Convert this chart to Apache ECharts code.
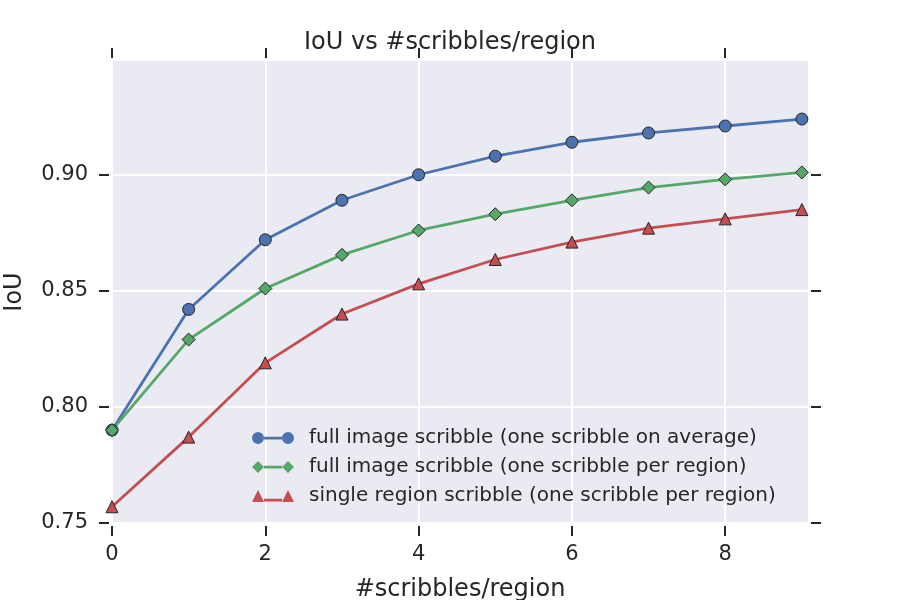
<!DOCTYPE html>
<html>
<head>
<meta charset="utf-8">
<script src="https://cdn.jsdelivr.net/npm/echarts@6/dist/echarts.min.js"></script>
<style>
  html, body { margin: 0; padding: 0; background: #fff; }
  #chart { width: 900px; height: 600px; }
</style>
</head>
<body>
<div id="chart"></div>
<script>
  const scribbleCounts = [0, 1, 2, 3, 4, 5, 6, 7, 8, 9];
  const fullImageAverage = [0.790, 0.842, 0.872, 0.889, 0.900, 0.908, 0.914, 0.918, 0.921, 0.924];
  const fullImagePerRegion = [0.790, 0.829, 0.851, 0.8655, 0.876, 0.883, 0.889, 0.8945, 0.898, 0.901];
  const singleRegion = [0.757, 0.787, 0.819, 0.840, 0.853, 0.8635, 0.871, 0.877, 0.881, 0.885];
  const xTicks = [0, 2, 4, 6, 8];
  const yTicks = [0.75, 0.80, 0.85, 0.90];
  const seriesNames = [
    'full image scribble (one scribble on average)',
    'full image scribble (one scribble per region)',
    'single region scribble (one scribble per region)'
  ];

  const font = 'DejaVu Sans';
  const ink = '#262626';
  const colors = ['#4C72B0', '#55A868', '#C44E52'];

  // legend handles: marker, line, marker (like matplotlib numpoints=2)
  const legendIcons = [
    'path://M0 6a6 6 0 1 0 12 0a6 6 0 1 0 -12 0zM12 4.8h18v2.6h-18zM30 6a6 6 0 1 0 12 0a6 6 0 1 0 -12 0z',
    'path://M0 6l6 -6l6 6l-6 6zM12 4.8h18v2.6h-18zM30 6l6 -6l6 6l-6 6z',
    'path://M0 12l6 -12l6 12zM12 8.8h18v2.6h-18zM30 12l6 -12l6 12z'
  ];

  function pairs(values) {
    return values.map((v, i) => [scribbleCounts[i], v]);
  }

  // secondary axes only carry the outside ticks (top and right)
  function tickAxis(base, ticks, position) {
    return Object.assign({
      position: position,
      offset: 3,
      axisLine: {show: false, onZero: false},
      axisTick: {show: true, length: 10, lineStyle: {color: ink, width: 2}, customValues: ticks},
      axisLabel: {show: false},
      splitLine: {show: false}
    }, base);
  }

  const chart = echarts.init(document.getElementById('chart'));

  const xBase = {type: 'value', min: 0, max: 9.08, interval: 2};
  const yBase = {type: 'value', min: 0.75, max: 0.949, interval: 0.05};

  const option = {
    animation: false,
    textStyle: {fontFamily: font, color: ink},
    title: {
      text: 'IoU vs #scribbles/region',
      left: 'center',
      top: 31,
      padding: 0,
      textStyle: {fontFamily: font, fontSize: 24, fontWeight: 'normal', color: ink}
    },
    grid: {
      left: 112,
      right: 92,
      top: 61,
      bottom: 77,
      show: true,
      backgroundColor: '#EAEAF2',
      borderWidth: 0,
      outerBoundsMode: 'none',
      containLabel: false
    },
    legend: {
      orient: 'vertical',
      left: 247,
      top: 423,
      itemWidth: 42,
      itemHeight: 12,
      itemGap: 9,
      itemStyle: {borderWidth: 0},
      textStyle: {fontFamily: font, fontSize: 20, color: ink, padding: [0, 0, 0, 10]},
      data: seriesNames.map((name, i) => ({name: name, icon: legendIcons[i]}))
    },
    xAxis: [
      Object.assign({}, xBase, {
        position: 'bottom',
        offset: 3,
        name: '#scribbles/region',
        nameLocation: 'middle',
        nameGap: 52,
        nameTextStyle: {fontFamily: font, fontSize: 24, color: ink},
        axisLine: {show: false, onZero: false},
        axisTick: {show: true, length: 10, lineStyle: {color: ink, width: 2}, customValues: xTicks},
        axisLabel: {fontFamily: font, fontSize: 21, color: ink, margin: 18, customValues: xTicks},
        splitLine: {show: true, lineStyle: {color: '#fff', width: 2}}
      }),
      tickAxis(xBase, xTicks, 'top')
    ],
    yAxis: [
      Object.assign({}, yBase, {
        position: 'left',
        offset: 3,
        name: 'IoU',
        nameLocation: 'middle',
        nameGap: 82,
        nameTextStyle: {fontFamily: font, fontSize: 24, color: ink},
        axisLine: {show: false, onZero: false},
        axisTick: {show: true, length: 10, lineStyle: {color: ink, width: 2}, customValues: yTicks},
        axisLabel: {
          fontFamily: font, fontSize: 21, color: ink, margin: 21,
          customValues: yTicks,
          formatter: v => v.toFixed(2)
        },
        splitLine: {show: true, lineStyle: {color: '#fff', width: 2}}
      }),
      tickAxis(yBase, yTicks, 'right')
    ],
    series: [
      {
        name: seriesNames[0],
        type: 'line',
        data: pairs(fullImageAverage),
        symbol: 'circle',
        symbolSize: 12,
        lineStyle: {color: colors[0], width: 2.8},
        itemStyle: {color: colors[0], borderColor: ink, borderWidth: 1}
      },
      {
        name: seriesNames[1],
        type: 'line',
        data: pairs(fullImagePerRegion),
        symbol: 'diamond',
        symbolSize: 13,
        lineStyle: {color: colors[1], width: 2.8},
        itemStyle: {color: colors[1], borderColor: ink, borderWidth: 1}
      },
      {
        name: seriesNames[2],
        type: 'line',
        data: pairs(singleRegion),
        symbol: 'triangle',
        symbolSize: 12,
        lineStyle: {color: colors[2], width: 2.8},
        itemStyle: {color: colors[2], borderColor: ink, borderWidth: 1}
      }
    ]
  };

  chart.setOption(option);
</script>
</body>
</html>
